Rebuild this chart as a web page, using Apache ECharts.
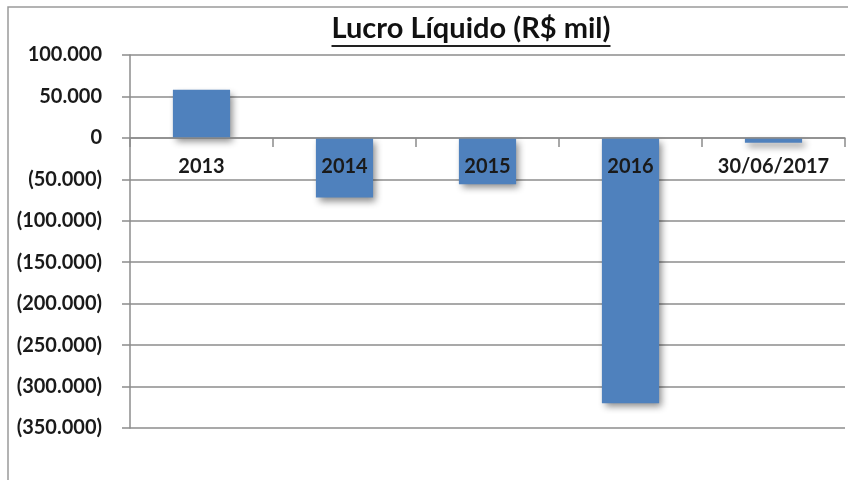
<!DOCTYPE html>
<html>
<head>
<meta charset="utf-8">
<script src="https://cdn.jsdelivr.net/npm/echarts@6/dist/echarts.min.js"></script>
<style>
html,body{margin:0;padding:0;background:#fff;}
#chart{width:848px;height:480px;}
</style>
</head>
<body>
<div id="chart"></div>
<script>
const titleText = 'Lucro Líquido (R$ mil)';
const categories = ['2013', '2014', '2015', '2016', '30/06/2017'];
const values = [58000, -72000, -56000, -320000, -6000];
const yMin = -350000, yMax = 100000, yStep = 50000;

function fmt(v) {
  const s = Math.abs(v).toString().replace(/\B(?=(\d{3})+(?!\d))/g, '.');
  return v < 0 ? '(' + s + ')' : s;
}

const FONT = 'Lato, "Open Sans", sans-serif';
const TITLE_SIZE = 29;
const cv = document.createElement('canvas').getContext('2d');
cv.font = 'bold ' + TITLE_SIZE + 'px Lato';
const titleW = cv.measureText(titleText).width;
const titleCx = 471;

const gridTop = 55, gridBottom = 52, H = 480;
const gridH = H - gridTop - gridBottom;
// move the category axis (line, ticks, labels) up to the value 0
const zeroOffset = -gridH * (0 - yMin) / (yMax - yMin);

const chart = echarts.init(document.getElementById('chart'));
chart.setOption({
  animation: false,
  backgroundColor: '#fff',
  title: {
    text: titleText,
    left: titleCx - titleW / 2,
    top: 14,
    padding: 0,
    textStyle: { fontFamily: FONT, fontWeight: 'bold', fontSize: TITLE_SIZE, color: '#111' }
  },
  graphic: [
    { type: 'rect', shape: { x: 8, y: 7, width: 900, height: 520 }, style: { fill: 'none', stroke: '#9a9a9a', lineWidth: 1.5 }, z: -10 },
    { type: 'line', shape: { x1: titleCx - titleW / 2, y1: 46, x2: titleCx + titleW / 2, y2: 46 }, style: { stroke: '#222', lineWidth: 2 } }
  ],
  grid: { left: 130, right: 3, top: gridTop, bottom: gridBottom, containLabel: false },
  xAxis: {
    type: 'category',
    data: categories,
    position: 'bottom',
    offset: zeroOffset,
    z: 5,
    axisLine: { onZero: false, lineStyle: { color: '#8c8c8c', width: 1.5 } },
    axisTick: { show: true, length: 9, alignWithLabel: false, lineStyle: { color: '#8c8c8c', width: 1.5 } },
    axisLabel: { margin: 19, color: '#1a1a1a', fontFamily: FONT, fontWeight: 'bold', fontSize: 20, interval: 0 },
    splitLine: { show: false }
  },
  yAxis: {
    type: 'value',
    min: yMin, max: yMax, interval: yStep,
    axisLine: { show: true, lineStyle: { color: '#8c8c8c', width: 1.5 } },
    axisTick: { show: true, length: 8, lineStyle: { color: '#8c8c8c', width: 1.5 } },
    axisLabel: { margin: 28, color: '#1a1a1a', fontFamily: FONT, fontWeight: 'bold', fontSize: 20, formatter: fmt },
    splitLine: { show: true, lineStyle: { color: '#8c8c8c', width: 1.5 } }
  },
  series: [{
    type: 'bar',
    data: values,
    barWidth: '40%',
    itemStyle: {
      color: '#4F81BD',
      shadowColor: 'rgba(0,0,0,0.45)',
      shadowBlur: 7,
      shadowOffsetX: 3,
      shadowOffsetY: 4
    }
  }]
});
</script>
</body>
</html>
